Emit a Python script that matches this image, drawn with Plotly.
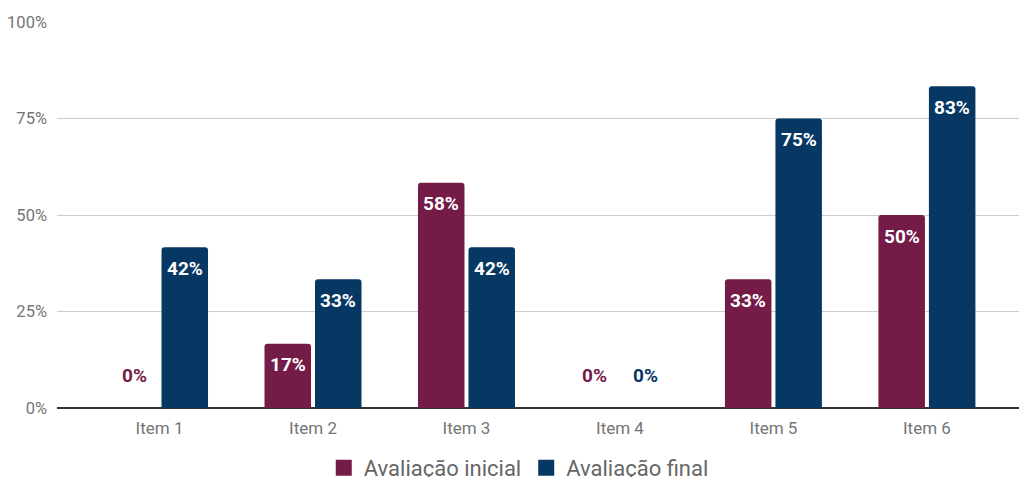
import plotly.graph_objects as go

# Category labels and the two evaluation series (percent of respondents)
items = ["Item 1", "Item 2", "Item 3", "Item 4", "Item 5", "Item 6"]
avaliacao_inicial = [0, 16.67, 58.33, 0, 33.33, 50]
avaliacao_final = [41.67, 33.33, 41.67, 0, 75, 83.33]
y_ticks = [0, 25, 50, 75, 100]

series = [
    ("Avaliação inicial", avaliacao_inicial, "#741b47"),
    ("Avaliação final", avaliacao_final, "#073763"),
]

BAR_W = 0.303
OFFSETS = [-0.316, 0.013]
FONT = "Roboto"

x_idx = list(range(len(items)))
fig = go.Figure()
annotations = []
for (name, vals, color), off in zip(series, OFFSETS):
    fig.add_trace(go.Bar(
        name=name, x=x_idx, y=vals,
        width=BAR_W, offset=off,
        marker=dict(color=color, line=dict(width=0), cornerradius=3),
        hoverinfo="skip", showlegend=False,
    ))
    # legend entry with a larger square swatch
    fig.add_trace(go.Scatter(
        name=name, x=[None], y=[None], mode="markers",
        marker=dict(symbol="square", size=18, color=color),
        hoverinfo="skip",
    ))
    for i, v in zip(x_idx, vals):
        label = f"{round(v)}%"
        zero = round(v) == 0
        annotations.append(dict(
            x=i + off + BAR_W / 2, y=v, xref="x", yref="y",
            text=f"<b>{label}</b>", showarrow=False,
            yanchor="middle", xanchor="center",
            yshift=33 if zero else -21,
            font=dict(family=FONT, size=19, color=color if zero else "white"),
        ))

fig.update_layout(
    width=1019, height=477, autosize=False,
    margin=dict(l=57, r=0, t=22, b=69, autoexpand=False),
    paper_bgcolor="white", plot_bgcolor="white",
    barmode="overlay",
    font=dict(family=FONT, size=17, color="#757575"),
    xaxis=dict(
        range=[-0.668, 5.6], tickmode="array", tickvals=x_idx, ticktext=items,
        showgrid=False, zeroline=False, showline=False, ticks="",
        tickfont=dict(size=17, color="#757575"), ticklabelstandoff=8,
    ),
    yaxis=dict(
        range=[0, 100], tickmode="array", tickvals=y_ticks,
        ticktext=[f"{t}%" for t in y_ticks],
        showgrid=True, gridcolor="#cccccc", gridwidth=1,
        zeroline=True, zerolinecolor="#333333", zerolinewidth=2,
        ticks="", ticklabelstandoff=9,
        tickfont=dict(size=16.5, color="#757575"),
    ),
    legend=dict(
        orientation="h", x=0.48, xanchor="center",
        y=-0.155, yanchor="middle",
        font=dict(family=FONT, size=22, color="#666666"),
        itemsizing="trace",
    ),
    annotations=annotations,
)

fig.write_html("out.html")
